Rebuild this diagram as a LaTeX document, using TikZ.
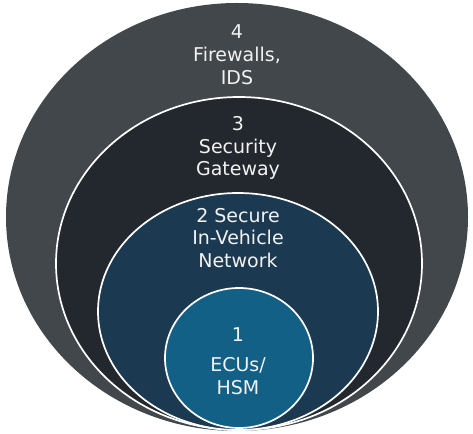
\documentclass[tikz,border=0pt]{standalone}
\usepackage{fontspec}
\setmainfont{DejaVu Sans}
\definecolor{ringfour}{HTML}{41474A}
\definecolor{ringthree}{HTML}{22282D}
\definecolor{ringtwo}{HTML}{1B3A52}
\definecolor{ringone}{HTML}{126085}
\definecolor{labeltext}{HTML}{F2F2F2}
\begin{document}
\begin{tikzpicture}[x=1pt,y=1pt,
  ring/.style={draw=white,line width=1.7pt},
  lbl/.style={text=labeltext,align=center,inner sep=0pt,
    font=\fontsize{19}{22.8}\selectfont}]
\useasboundingbox (0,0) rectangle (473,433);
\fill[white] (0,0) rectangle (473,433);
\fill[ringfour] (237,216) ellipse [x radius=231pt, y radius=214pt];
\filldraw[ring,fill=ringthree] (239,169.5) ellipse [x radius=183pt, y radius=166.5pt];
\filldraw[ring,fill=ringtwo] (238,121.5) ellipse [x radius=140pt, y radius=118.5pt];
\filldraw[ring,fill=ringone] (239,75) ellipse [x radius=74pt, y radius=70pt];
\node[lbl] (l4) at (237,378) {4\\Firewalls,\\IDS};
\node[lbl] (l3) at (238,285) {3\\Security\\Gateway};
\node[lbl] (l2) at (238,195) {2 Secure\\In-Vehicle\\Network};
\node[lbl] (l1n) at (238,98) {1};
\node[lbl] (l1) at (238,57) {ECUs/\\HSM};
\end{tikzpicture}
\end{document}
